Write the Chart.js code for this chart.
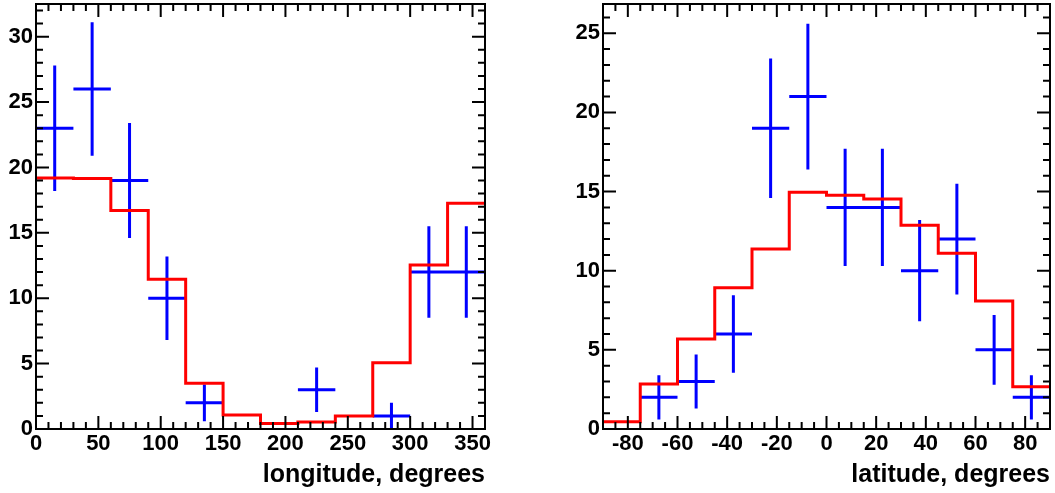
<!DOCTYPE html>
<html>
<head>
<meta charset="utf-8">
<script src="https://cdn.jsdelivr.net/npm/chart.js@4"></script>
<style>
  html, body { margin: 0; padding: 0; background: #fff; }
  #wrap { position: relative; width: 1055px; height: 493px; }
  .panel { position: absolute; top: 0; height: 493px; }
  #lon-panel { left: 0; width: 527px; }
  #lat-panel { left: 527px; width: 528px; }
</style>
</head>
<body>
<div id="wrap">
  <div class="panel" id="lon-panel"><canvas id="lon-chart"></canvas></div>
  <div class="panel" id="lat-panel"><canvas id="lat-chart"></canvas></div>
</div>
<script>
// longitude panel: 12 bins of 30 degrees
const lonEdges = [0, 30, 60, 90, 120, 150, 180, 210, 240, 270, 300, 330, 360];
const lonCounts = [23, 26, 19, 10, 2, 0, 0, 3, 0, 1, 12, 12];
const lonErrors = [4.8, 5.1, 4.4, 3.2, 1.4, 0, 0, 1.7, 0, 1.0, 3.5, 3.5];
const lonModel = [19.2, 19.15, 16.7, 11.45, 3.5, 1.07, 0.43, 0.53, 1.0, 5.07, 12.55, 17.27];
const lonXTicks = [0, 50, 100, 150, 200, 250, 300, 350];
const lonYTicks = [0, 5, 10, 15, 20, 25, 30];

// latitude panel: 12 bins of 15 degrees
const latEdges = [-90, -75, -60, -45, -30, -15, 0, 15, 30, 45, 60, 75, 90];
const latCounts = [0, 2, 3, 6, 19, 21, 14, 14, 10, 12, 5, 2];
const latErrors = [0, 1.4, 1.7, 2.45, 4.4, 4.6, 3.7, 3.7, 3.2, 3.5, 2.2, 1.4];
const latModel = [0.46, 2.84, 5.69, 8.93, 11.37, 14.95, 14.76, 14.53, 12.87, 11.1, 8.09, 2.67];
const latXTicks = [-80, -60, -40, -20, 0, 20, 40, 60, 80];
const latYTicks = [0, 5, 10, 15, 20, 25];

const FONT = "'Liberation Sans', Arial, Helvetica, sans-serif";

// step outline: one point per left edge, last value repeated at the right edge
function stepPoints(edges, values) {
  return edges.map((e, i) => ({ x: e, y: values[Math.min(i, values.length - 1)] }));
}

// error crosses: horizontal bar over the bin, vertical bar +- error, null breaks the line
function crossPoints(edges, counts, errors) {
  const pts = [];
  counts.forEach((n, i) => {
    if (!n) return;
    const mid = (edges[i] + edges[i + 1]) / 2;
    pts.push({ x: edges[i], y: n }, { x: edges[i + 1], y: n }, { x: mid, y: null });
    pts.push({ x: mid, y: n - errors[i] }, { x: mid, y: n + errors[i] }, { x: mid, y: null });
  });
  return pts;
}

// ROOT style frame with inward ticks on all four sides
const rootFrame = {
  id: 'rootFrame',
  afterDatasetsDraw(chart, args, opts) {
    const { ctx, chartArea: a, scales: { x, y } } = chart;
    const isMajor = (v, step) => Math.abs(v / step - Math.round(v / step)) < 1e-6;
    ctx.save();
    ctx.strokeStyle = '#000';
    ctx.lineWidth = 2;
    ctx.beginPath();
    for (let v = x.min; v <= x.max + 1e-9; v += opts.xMinor) {
      const px = x.getPixelForValue(v);
      const len = isMajor(v, opts.xMajor) ? 13 : 7;
      ctx.moveTo(px, a.bottom); ctx.lineTo(px, a.bottom - len);
      ctx.moveTo(px, a.top); ctx.lineTo(px, a.top + len);
    }
    for (let v = 0; v <= y.max + 1e-9; v += opts.yMinor) {
      const py = y.getPixelForValue(v);
      const len = isMajor(v, opts.yMajor) ? 13 : 7;
      ctx.moveTo(a.left, py); ctx.lineTo(a.left + len, py);
      ctx.moveTo(a.right, py); ctx.lineTo(a.right - len, py);
    }
    ctx.stroke();
    ctx.strokeRect(a.left, a.top, a.right - a.left, a.bottom - a.top);
    ctx.restore();
  },
};

function histChart(id, p) {
  return new Chart(document.getElementById(id), {
    type: 'scatter',
    data: {
      datasets: [
        {
          data: stepPoints(p.edges, p.model),
          showLine: true, stepped: 'before',
          borderColor: '#ff0000', borderWidth: 3, pointRadius: 0,
          borderJoinStyle: 'miter', borderCapStyle: 'butt',
        },
        {
          data: crossPoints(p.edges, p.counts, p.errors),
          showLine: true, spanGaps: false,
          borderColor: '#0000ff', borderWidth: 3, pointRadius: 0,
          borderCapStyle: 'butt',
        },
      ],
    },
    options: {
      responsive: true,
      maintainAspectRatio: false,
      animation: false,
      events: [],
      layout: { padding: p.padding },
      plugins: {
        legend: { display: false },
        tooltip: { enabled: false },
        rootFrame: p.frame,
      },
      scales: {
        x: {
          type: 'linear', min: p.edges[0], max: p.edges[p.edges.length - 1],
          grid: { display: false, drawTicks: false }, border: { display: false },
          ticks: { color: '#000', padding: 2, maxRotation: 0, autoSkip: false, font: { family: FONT, size: 22, weight: 'bold' } },
          afterBuildTicks: (s) => { s.ticks = p.xTicks.map((v) => ({ value: v })); },
          afterFit: (s) => { s.height = 64; s.paddingLeft = 0; s.paddingRight = 0; },
          title: {
            display: true, text: p.title, align: 'end', color: '#000',
            font: { family: FONT, size: 25, weight: 'bold' }, padding: { top: 0, bottom: 3 },
          },
        },
        y: {
          type: 'linear', min: 0, max: p.yMax,
          grid: { display: false, drawTicks: false }, border: { display: false },
          ticks: { color: '#000', padding: 3, font: { family: FONT, size: 22, weight: 'bold' } },
          afterBuildTicks: (s) => { s.ticks = p.yTicks.map((v) => ({ value: v })); },
          afterFit: (s) => { s.width = p.yWidth; s.paddingTop = 0; s.paddingBottom = 0; },
        },
      },
    },
    plugins: [rootFrame],
  });
}

histChart('lon-chart', {
  edges: lonEdges, counts: lonCounts, errors: lonErrors, model: lonModel,
  xTicks: lonXTicks, yTicks: lonYTicks, yMax: 32.5, yWidth: 36,
  title: 'longitude, degrees',
  padding: { top: 4, right: 42, left: 0, bottom: 0 },
  frame: { xMinor: 10, xMajor: 50, yMinor: 1, yMajor: 5 },
});

histChart('lat-chart', {
  edges: latEdges, counts: latCounts, errors: latErrors, model: latModel,
  xTicks: latXTicks, yTicks: latYTicks, yMax: 26.85, yWidth: 76,
  title: 'latitude, degrees',
  padding: { top: 4, right: 5, left: 0, bottom: 0 },
  frame: { xMinor: 5, xMajor: 20, yMinor: 1, yMajor: 5 },
});
</script>
</body>
</html>
